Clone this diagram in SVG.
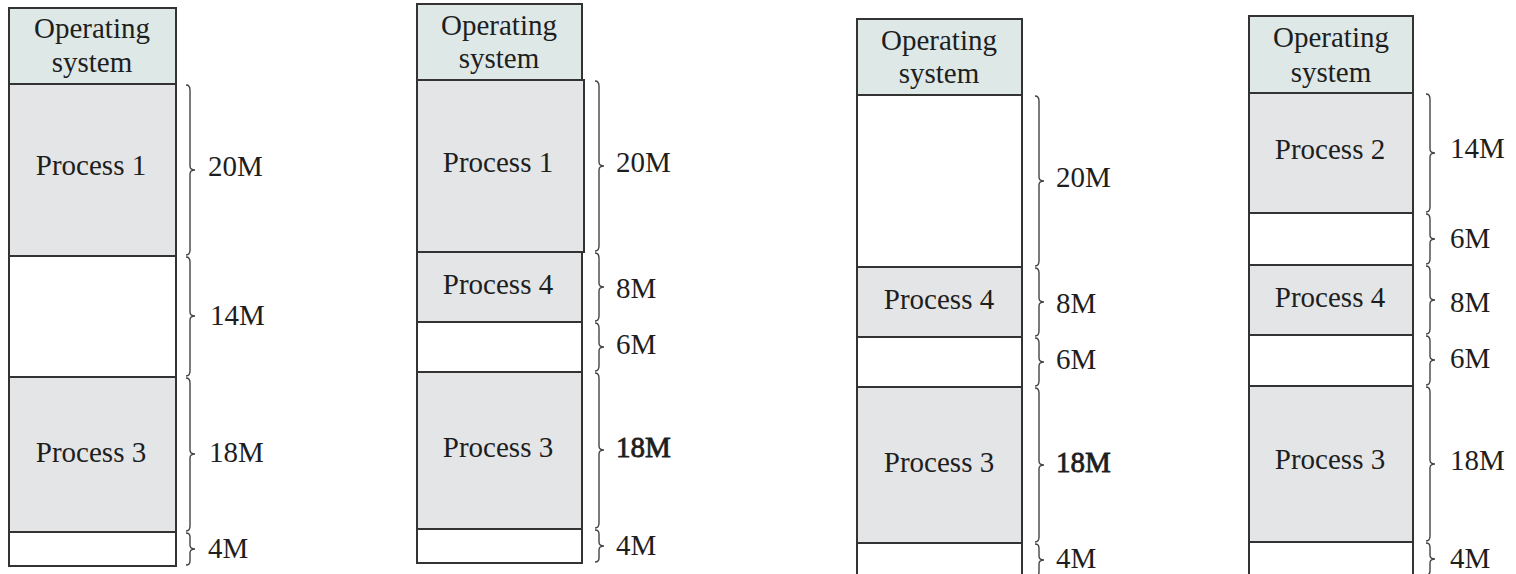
<svg xmlns="http://www.w3.org/2000/svg" width="1516" height="574" viewBox="0 0 1516 574">
<style>
rect{stroke:#333;stroke-width:2}
.os{fill:#dde8e7}
.proc{fill:#e4e5e7}
.free{fill:#fff}
text{font-family:"Liberation Serif","Times New Roman",serif;font-size:29px;fill:#1e1e1e}
.c{text-anchor:middle}
.b{stroke:#1e1e1e;stroke-width:0.8}
.brace{fill:none;stroke:#444;stroke-width:1.4}
</style>
<rect x="0" y="0" width="1516" height="574" fill="#fff" style="stroke:none"/>

<g id="col1">
<g id="c1-os"><rect class="os" x="9" y="8" width="167" height="76"/><text class="c" x="92" y="38">Operating</text><text class="c" x="92" y="72">system</text></g>
<g id="c1-p1"><rect class="proc" x="9" y="84" width="167" height="172"/><text class="c" x="91" y="175">Process 1</text></g>
<g id="c1-f14"><rect class="free" x="9" y="256" width="167" height="121"/></g>
<g id="c1-p3"><rect class="proc" x="9" y="377" width="167" height="155"/><text class="c" x="91" y="462">Process 3</text></g>
<g id="c1-f4"><rect class="free" x="9" y="532" width="167" height="34"/></g>
</g>

<g id="col2">
<g id="c2-os"><rect class="os" x="417" y="4" width="165" height="76"/><text class="c" x="499" y="35">Operating</text><text class="c" x="499" y="68">system</text></g>
<g id="c2-p1"><rect class="proc" x="417" y="80" width="167" height="172"/><text class="c" x="498" y="172">Process 1</text></g>
<g id="c2-p4"><rect class="proc" x="417" y="252" width="165" height="70"/><text class="c" x="498" y="294">Process 4</text></g>
<g id="c2-f6"><rect class="free" x="417" y="322" width="165" height="50"/></g>
<g id="c2-p3"><rect class="proc" x="417" y="372" width="165" height="157"/><text class="c" x="498" y="457">Process 3</text></g>
<g id="c2-f4"><rect class="free" x="417" y="529" width="165" height="34"/></g>
</g>

<g id="col3">
<g id="c3-os"><rect class="os" x="857" y="19" width="165" height="76"/><text class="c" x="939" y="50">Operating</text><text class="c" x="939" y="83">system</text></g>
<g id="c3-f20"><rect class="free" x="857" y="95" width="165" height="172"/></g>
<g id="c3-p4"><rect class="proc" x="857" y="267" width="165" height="70"/><text class="c" x="939" y="309">Process 4</text></g>
<g id="c3-f6"><rect class="free" x="857" y="337" width="165" height="50"/></g>
<g id="c3-p3"><rect class="proc" x="857" y="387" width="165" height="156"/><text class="c" x="939" y="472">Process 3</text></g>
<g id="c3-f4"><rect class="free" x="857" y="543" width="165" height="40"/></g>
</g>

<g id="col4">
<g id="c4-os"><rect class="os" x="1249" y="16" width="164" height="77"/><text class="c" x="1331" y="47">Operating</text><text class="c" x="1331" y="82">system</text></g>
<g id="c4-p2"><rect class="proc" x="1249" y="93" width="164" height="120"/><text class="c" x="1330" y="159">Process 2</text></g>
<g id="c4-f6a"><rect class="free" x="1249" y="213" width="164" height="52"/></g>
<g id="c4-p4"><rect class="proc" x="1249" y="265" width="164" height="70"/><text class="c" x="1330" y="307">Process 4</text></g>
<g id="c4-f6b"><rect class="free" x="1249" y="335" width="164" height="51"/></g>
<g id="c4-p3"><rect class="proc" x="1249" y="386" width="164" height="156"/><text class="c" x="1330" y="469">Process 3</text></g>
<g id="c4-f4"><rect class="free" x="1249" y="542" width="164" height="40"/></g>
</g>

<g id="connectors">
<path class="brace" d="M186 85 Q190 85 190 90 L190 166 Q190 170 195 170 Q190 170 190 174 L190 250 Q190 255 186 255"/>
<path class="brace" d="M186 257 Q190 257 190 262 L190 312 Q190 316 195 316 Q190 316 190 320 L190 371 Q190 376 186 376"/>
<path class="brace" d="M186 378 Q190 378 190 383 L190 450 Q190 454 195 454 Q190 454 190 458 L190 526 Q190 531 186 531"/>
<path class="brace" d="M186 533 Q190 533 190 537 L190 545 Q190 549 195 549 Q190 549 190 553 L190 561 Q190 565 186 565"/>
<path class="brace" d="M595 81 Q599 81 599 86 L599 162 Q599 166 604 166 Q599 166 599 170 L599 246 Q599 251 595 251"/>
<path class="brace" d="M595 253 Q599 253 599 258 L599 283 Q599 287 604 287 Q599 287 599 291 L599 316 Q599 321 595 321"/>
<path class="brace" d="M595 323 Q599 323 599 328 L599 343 Q599 347 604 347 Q599 347 599 351 L599 366 Q599 371 595 371"/>
<path class="brace" d="M595 373 Q599 373 599 378 L599 446 Q599 450 604 450 Q599 450 599 454 L599 523 Q599 528 595 528"/>
<path class="brace" d="M595 530 Q599 530 599 534 L599 542 Q599 546 604 546 Q599 546 599 550 L599 558 Q599 562 595 562"/>
<path class="brace" d="M1035 96 Q1039 96 1039 101 L1039 177 Q1039 181 1044 181 Q1039 181 1039 185 L1039 261 Q1039 266 1035 266"/>
<path class="brace" d="M1035 268 Q1039 268 1039 273 L1039 298 Q1039 302 1044 302 Q1039 302 1039 306 L1039 331 Q1039 336 1035 336"/>
<path class="brace" d="M1035 338 Q1039 338 1039 343 L1039 358 Q1039 362 1044 362 Q1039 362 1039 366 L1039 381 Q1039 386 1035 386"/>
<path class="brace" d="M1035 388 Q1039 388 1039 393 L1039 461 Q1039 465 1044 465 Q1039 465 1039 469 L1039 537 Q1039 542 1035 542"/>
<path class="brace" d="M1035 544 Q1039 544 1039 548 L1039 556 Q1039 560 1044 560 Q1039 560 1039 564 L1039 572 Q1039 576 1035 576"/>
<path class="brace" d="M1426 94 Q1430 94 1430 99 L1430 149 Q1430 153 1435 153 Q1430 153 1430 157 L1430 207 Q1430 212 1426 212"/>
<path class="brace" d="M1426 214 Q1430 214 1430 219 L1430 235 Q1430 239 1435 239 Q1430 239 1430 243 L1430 259 Q1430 264 1426 264"/>
<path class="brace" d="M1426 266 Q1430 266 1430 271 L1430 296 Q1430 300 1435 300 Q1430 300 1430 304 L1430 329 Q1430 334 1426 334"/>
<path class="brace" d="M1426 336 Q1430 336 1430 341 L1430 356 Q1430 360 1435 360 Q1430 360 1430 364 L1430 380 Q1430 385 1426 385"/>
<path class="brace" d="M1426 387 Q1430 387 1430 392 L1430 460 Q1430 464 1435 464 Q1430 464 1430 468 L1430 536 Q1430 541 1426 541"/>
<path class="brace" d="M1426 543 Q1430 543 1430 547 L1430 555 Q1430 559 1435 559 Q1430 559 1430 563 L1430 571 Q1430 575 1426 575"/>
</g>

<g id="labels">
<text x="208" y="176">20M</text>
<text x="210" y="325">14M</text>
<text x="209" y="462">18M</text>
<text x="208" y="558">4M</text>
<text x="616" y="172">20M</text>
<text x="616" y="298">8M</text>
<text x="616" y="354">6M</text>
<text class="b" x="616" y="457">18M</text>
<text x="616" y="555">4M</text>
<text x="1056" y="187">20M</text>
<text x="1056" y="313">8M</text>
<text x="1056" y="369">6M</text>
<text class="b" x="1056" y="472">18M</text>
<text x="1056" y="568">4M</text>
<text x="1450" y="158">14M</text>
<text x="1450" y="248">6M</text>
<text x="1450" y="312">8M</text>
<text x="1450" y="368">6M</text>
<text x="1450" y="470">18M</text>
<text x="1450" y="568">4M</text>
</g>
</svg>
